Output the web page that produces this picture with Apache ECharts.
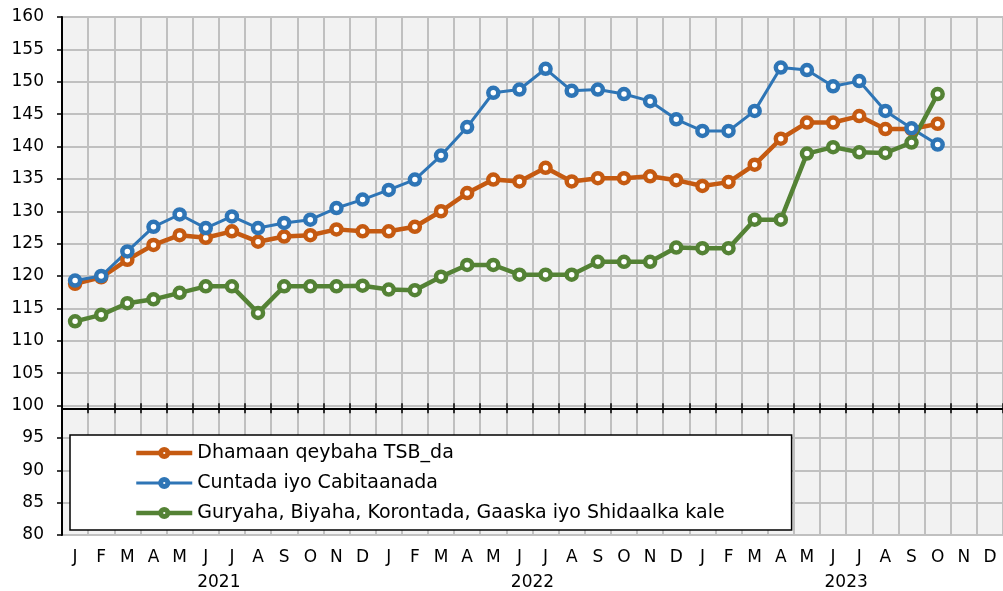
<!DOCTYPE html>
<html>
<head>
<meta charset="utf-8">
<script src="https://cdn.jsdelivr.net/npm/echarts@6/dist/echarts.min.js"></script>
<style>
html,body{margin:0;padding:0;background:#fff;}
#chart{width:1003px;height:591px;}
</style>
</head>
<body>
<div id="chart"></div>
<script>
var months = ['J','F','M','A','M','J','J','A','S','O','N','D',
              'J','F','M','A','M','J','J','A','S','O','N','D',
              'J','F','M','A','M','J','J','A','S','O','N','D'];
var years = ['2021','2022','2023'];
var yTicks = {min: 80, max: 160, interval: 5};

var seriesNames = ['Dhamaan qeybaha TSB_da','Cuntada iyo Cabitaanada','Guryaha, Biyaha, Korontada, Gaaska iyo Shidaalka kale'];

var dhamaan = [118.8,119.8,122.5,124.8,126.3,125.9,126.9,125.3,126.1,126.3,127.2,126.9,
               126.9,127.6,130.0,132.8,134.9,134.6,136.7,134.6,135.1,135.1,135.4,134.8,
               133.9,134.5,137.2,141.2,143.7,143.7,144.7,142.7,142.7,143.5];
var cuntada = [119.3,120.0,123.8,127.6,129.5,127.4,129.2,127.4,128.2,128.7,130.5,131.8,
               133.3,134.9,138.6,143.0,148.3,148.8,152.0,148.6,148.8,148.1,147.0,144.2,
               142.4,142.4,145.5,152.2,151.8,149.3,150.1,145.5,142.8,140.3];
var guryaha = [113.0,114.0,115.8,116.4,117.4,118.4,118.4,114.3,118.4,118.4,118.4,118.5,
               117.9,117.8,119.9,121.7,121.7,120.2,120.2,120.2,122.2,122.2,122.2,124.4,
               124.3,124.3,128.7,128.7,138.9,139.9,139.1,139.0,140.6,148.1];

var colors = ['#C55A11','#2E75B6','#548235'];
var lineWidths = [4.5,3,4.5];
var FONT = 'DejaVu Sans';

function mkSeries(name, data, i){
  return {
    name: name, type: 'line', data: data,
    xAxisIndex: 0, yAxisIndex: 0,
    symbol: 'circle', symbolSize: 10,
    itemStyle: {color: '#fff', borderColor: colors[i], borderWidth: 4.5},
    lineStyle: {color: colors[i], width: lineWidths[i]},
    emphasis: {disabled: true},
    animation: false
  };
}

var legendData = seriesNames.map(function(n, i){
  return {
    name: n,
    itemStyle: {color: '#fff', borderColor: colors[i], borderWidth: 5},
    lineStyle: {color: colors[i], width: lineWidths[i]}
  };
});

var chart = echarts.init(document.getElementById('chart'), null, {renderer: 'canvas'});
chart.setOption({
  backgroundColor: '#ffffff',
  animation: false,
  grid: [
    {left: 62, right: -3, top: 17, bottom: 52.4, show: true, backgroundColor: '#F2F2F2',
     borderColor: '#000', borderWidth: 1.5, containLabel: false},
    {left: 62, right: -3, top: 17, bottom: 182.7, show: false, containLabel: false}
  ],
  legend: {
    orient: 'vertical', left: 70, top: 435,
    backgroundColor: '#fff', borderColor: '#000', borderWidth: 1.5,
    padding: [8, 67, 7, 64],
    itemWidth: 56, itemHeight: 9, itemGap: 10,
    textStyle: {fontFamily: FONT, fontSize: 19, color: '#000', lineHeight: 20},
    data: legendData
  },
  xAxis: [
    {type: 'category', gridIndex: 0, data: months, boundaryGap: true, position: 'bottom',
     axisLine: {show: false}, axisTick: {show: false},
     axisLabel: {fontFamily: FONT, fontSize: 17, color: '#000', margin: 14, interval: 0},
     splitLine: {show: true, interval: 0, lineStyle: {color: '#C0C0C0', width: 2}}},
    {type: 'category', gridIndex: 0, data: years, boundaryGap: true, position: 'bottom', offset: 25,
     axisLine: {show: false}, axisTick: {show: false},
     axisLabel: {fontFamily: FONT, fontSize: 17, color: '#000', margin: 14, interval: 0},
     splitLine: {show: false}},
    {type: 'category', gridIndex: 1, data: months, boundaryGap: true, position: 'bottom',
     axisLine: {show: true, lineStyle: {color: '#000', width: 2}},
     axisTick: {show: true, interval: 0, length: 5, inside: false, lineStyle: {color: '#000', width: 1.5}},
     axisLabel: {show: false}, splitLine: {show: false}},
    {type: 'category', gridIndex: 1, data: months, boundaryGap: true, position: 'bottom',
     axisLine: {show: false},
     axisTick: {show: true, interval: 0, length: 5, inside: true, lineStyle: {color: '#000', width: 1.5}},
     axisLabel: {show: false}, splitLine: {show: false}}
  ],
  yAxis: [
    {type: 'value', gridIndex: 0, min: yTicks.min, max: yTicks.max, interval: yTicks.interval,
     axisLine: {show: true, lineStyle: {color: '#000', width: 2}},
     axisTick: {show: true, length: 5, lineStyle: {color: '#000', width: 1.5}},
     axisLabel: {fontFamily: FONT, fontSize: 17, color: '#000', margin: 18},
     splitLine: {show: true, lineStyle: {color: '#C0C0C0', width: 2}}},
    {type: 'value', gridIndex: 1, min: 0, max: 1, show: false}
  ],
  series: [
    mkSeries(seriesNames[0], dhamaan, 0),
    mkSeries(seriesNames[1], cuntada, 1),
    mkSeries(seriesNames[2], guryaha, 2)
  ]
});
</script>
</body>
</html>
